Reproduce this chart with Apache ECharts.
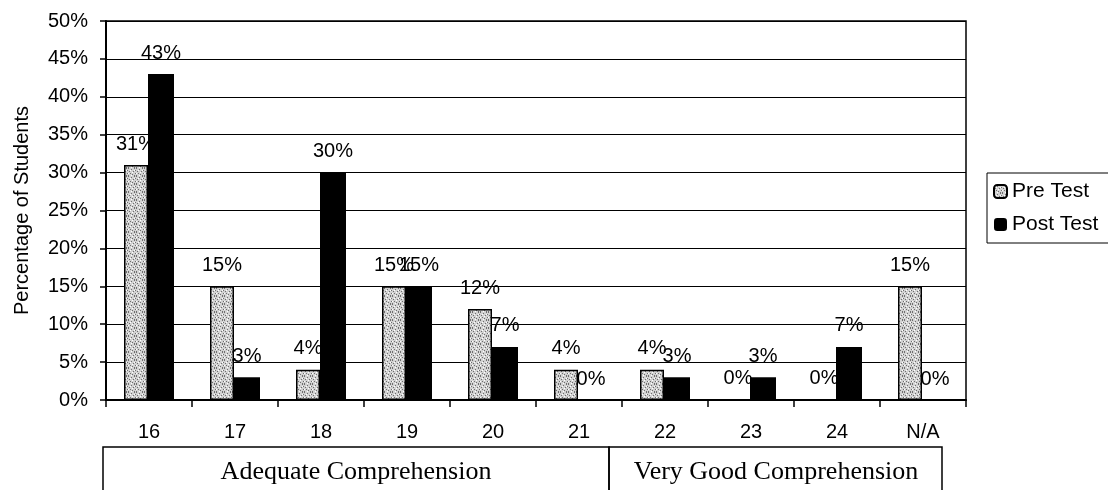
<!DOCTYPE html>
<html>
<head>
<meta charset="utf-8">
<script src="https://cdn.jsdelivr.net/npm/echarts@6/dist/echarts.min.js"></script>
<style>
  html, body { margin: 0; padding: 0; background: #fff; }
  #chart { width: 1108px; height: 490px; }
</style>
</head>
<body>
<div id="chart"></div>
<script>
const categories = ['16', '17', '18', '19', '20', '21', '22', '23', '24', 'N/A']
const preTest = [31, 15, 4, 15, 12, 4, 4, 0, 0, 15]
const postTest = [43, 3, 30, 15, 7, 0, 3, 3, 7, 0]
const groups = ['Adequate Comprehension', 'Very Good Comprehension']

// speckled grey fill like the scanned pattern
function makeSpeckle() {
  const c = document.createElement('canvas')
  c.width = 8
  c.height = 8
  const ctx = c.getContext('2d')
  ctx.fillStyle = '#d2d2d2'
  ctx.fillRect(0, 0, 8, 8)
  const dark = [[0, 0], [3, 1], [6, 0], [1, 3], [5, 3], [2, 5], [7, 5], [4, 6], [0, 7], [6, 7], [7, 2]]
  const light = [[2, 2], [6, 2], [4, 4], [0, 5], [3, 7]]
  ctx.fillStyle = '#6e6e6e'
  dark.forEach(p => ctx.fillRect(p[0], p[1], 1, 1))
  ctx.fillStyle = '#ffffff'
  light.forEach(p => ctx.fillRect(p[0], p[1], 1, 1))
  return c
}

const chart = echarts.init(document.getElementById('chart'))
const font = 'Arial, "Liberation Sans", sans-serif'
const serif = '"Times New Roman", "Liberation Serif", serif'

const labelStyle = {
  show: true,
  position: 'top',
  distance: 11,
  formatter: '{c}%',
  color: '#000',
  fontFamily: font,
  fontSize: 20,
}

chart.setOption({
  animation: false,
  backgroundColor: '#fff',
  grid: {
    left: 106,
    right: 142,
    top: 21,
    bottom: 90,
    show: true,
    borderColor: '#000',
    borderWidth: 1.5,
  },
  legend: {
    orient: 'vertical',
    left: 987,
    top: 173,
    padding: [8, 12, 8, 6],
    itemWidth: 13,
    itemHeight: 13,
    itemGap: 12,
    borderColor: '#000',
    borderWidth: 1,
    textStyle: { color: '#000', fontFamily: font, fontSize: 21 },
    data: ['Pre Test', 'Post Test'],
  },
  xAxis: {
    type: 'category',
    data: categories,
    axisLine: { lineStyle: { color: '#000', width: 2 } },
    axisTick: { show: true, length: 7, lineStyle: { color: '#000', width: 1.5 } },
    axisLabel: { color: '#000', fontFamily: font, fontSize: 20, margin: 22 },
  },
  yAxis: {
    type: 'value',
    min: 0,
    max: 50,
    interval: 5,
    name: 'Percentage of Students',
    nameLocation: 'middle',
    nameGap: 74,
    nameTextStyle: { color: '#000', fontFamily: font, fontSize: 20 },
    axisLine: { show: true, lineStyle: { color: '#000', width: 2 } },
    axisTick: { show: true, length: 6, lineStyle: { color: '#000', width: 1.5 } },
    axisLabel: { color: '#000', fontFamily: font, fontSize: 20, margin: 18, formatter: '{value}%' },
    splitLine: { lineStyle: { color: '#000', width: 1.2 } },
  },
  series: [
    {
      name: 'Pre Test',
      type: 'bar',
      data: preTest,
      barWidth: 24,
      barGap: '0%',
      itemStyle: {
        color: { image: makeSpeckle(), repeat: 'repeat' },
        borderColor: '#000',
        borderWidth: 1.5,
      },
      label: labelStyle,
    },
    {
      name: 'Post Test',
      type: 'bar',
      data: postTest,
      barWidth: 26,
      itemStyle: { color: '#000' },
      label: labelStyle,
    },
  ],
  graphic: [
    {
      type: 'rect',
      shape: { x: 103, y: 447, width: 506, height: 50 },
      style: { fill: 'none', stroke: '#000', lineWidth: 1.5 },
    },
    {
      type: 'rect',
      shape: { x: 609, y: 447, width: 333, height: 50 },
      style: { fill: 'none', stroke: '#000', lineWidth: 1.5 },
    },
    {
      type: 'text',
      x: 356,
      y: 472,
      style: {
        text: groups[0],
        fill: '#000',
        font: '26px ' + serif,
        align: 'center',
        verticalAlign: 'middle',
      },
    },
    {
      type: 'text',
      x: 776,
      y: 472,
      style: {
        text: groups[1],
        fill: '#000',
        font: '26px ' + serif,
        align: 'center',
        verticalAlign: 'middle',
      },
    },
  ],
})
</script>
</body>
</html>
